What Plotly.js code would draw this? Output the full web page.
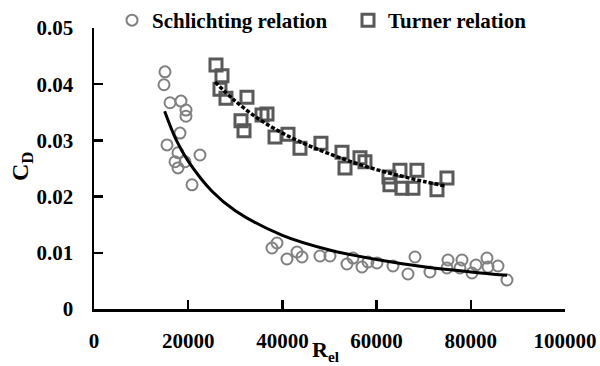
<!DOCTYPE html>
<html><head><meta charset="utf-8">
<script src="https://cdn.plot.ly/plotly-3.0.1.min.js"></script>
<style>html,body{margin:0;padding:0;background:#fff}#c{width:600px;height:366px}</style>
</head><body><div id="c"></div>
<script>
// Schlichting relation (open circles)
const schRe = [15070,14860,16140,18470,19530,19530,18260,15500,17830,22500,17200,19320,17830,20810,
  37790,38850,40970,43100,44160,47980,50100,53710,54990,56900,58170,
  60080,63480,66660,68150,71330,74940,75160,77700,78130,80250,81100,83430,83650,85770,87680];
const schCd = [0.0422,0.0399,0.0367,0.0370,0.0354,0.0343,0.0313,0.0292,0.0278,0.0274,0.0262,0.0262,0.0251,0.0221,
  0.01085,0.01174,0.0089,0.01014,0.00925,0.00943,0.00943,0.00801,0.00907,0.00747,0.00836,
  0.00819,0.00765,0.00623,0.00925,0.00658,0.0073,0.00872,0.0073,0.00872,0.00641,0.00783,0.00907,0.00747,0.00765,0.00516];
// Turner relation (open squares)
const turRe = [25900,27170,26750,28020,32480,31210,31850,35670,36730,38430,41190,43730,48190,52650,53290,56470,57530,62630,64960,62840,65390,68570,67720,72820,74940];
const turCd = [0.0434,0.0415,0.0391,0.0375,0.0377,0.0335,0.0317,0.0345,0.0347,0.0306,0.0311,0.0286,0.0295,0.0279,0.0251,0.0269,0.0262,0.0235,0.0247,0.0221,0.0215,0.0247,0.0215,0.0212,0.0233];
// Trend lines
const schFitRe = [15000,17500,20000,25000,30000,40000,50000,60000,70000,80000,87700];
const schFitCd = [0.0352,0.0300,0.0263,0.0210,0.0175,0.0131,0.0105,0.0088,0.0075,0.0066,0.0060];
const turFitRe = [25700,30000,35000,40000,45000,50000,55000,60000,65000,70000,74500];
const turFitCd = [0.0404,0.0370,0.0338,0.0313,0.0293,0.0276,0.0261,0.0248,0.0237,0.0227,0.0219];
const xTicks = [0,20000,40000,60000,80000,100000];
const yTicks = [0,0.01,0.02,0.03,0.04,0.05];
const names = ['Schlichting relation','Turner relation'];

const F = 'Liberation Serif, Times New Roman, serif';
const legFont = {family:F, size:21, color:'#000', weight:'bold'};
const traces = [
  {x: schRe, y: schCd, mode:'markers', type:'scatter', name:names[0], legend:'legend',
   marker:{symbol:'circle-open', size:11, color:'#808080', line:{width:2, color:'#808080'}}},
  {x: turRe, y: turCd, mode:'markers', type:'scatter', name:names[1], legend:'legend2',
   marker:{symbol:'square-open', size:12, color:'#595959', line:{width:3, color:'#595959'}}},
  {x: schFitRe, y: schFitCd, mode:'lines', type:'scatter', showlegend:false,
   line:{color:'#000', width:3, shape:'spline'}},
  {x: turFitRe, y: turFitCd, mode:'lines', type:'scatter', showlegend:false,
   line:{color:'#000', width:3.5, shape:'spline', dash:'4px,2px'}}
];
const layout = {
  width:600, height:366,
  margin:{l:94, r:35, t:28, b:57, autoexpand:false},
  paper_bgcolor:'#fff', plot_bgcolor:'#fff',
  font:{family:F, color:'#000', size:21, weight:'bold'},
  showlegend:true,
  legend:{xref:'container', yref:'container', x:112/600, y:1,
    xanchor:'left', yanchor:'top', itemwidth:30, font:legFont, bgcolor:'rgba(0,0,0,0)', borderwidth:0},
  legend2:{xref:'container', yref:'container', x:348/600, y:1,
    xanchor:'left', yanchor:'top', itemwidth:30, font:legFont, bgcolor:'rgba(0,0,0,0)', borderwidth:0},
  xaxis:{range:[0,100000], tickvals:xTicks, ticktext:xTicks.map(String), automargin:false,
    showline:true, linecolor:'#000', linewidth:2.5, ticks:'inside', ticklen:9, tickwidth:2.5, tickcolor:'#000',
    showgrid:false, zeroline:false, tickfont:{family:F, size:21, color:'#000', weight:'bold'}, ticklabelstandoff:11},
  yaxis:{range:[0,0.05], tickvals:yTicks, ticktext:yTicks.map(v=>String(v)), automargin:false,
    showline:true, linecolor:'#000', linewidth:2.5, ticks:'inside', ticklen:9, tickwidth:2.5, tickcolor:'#000',
    showgrid:false, zeroline:false, tickfont:{family:F, size:21, color:'#000', weight:'bold'}, ticklabelstandoff:14},
  annotations:[
    {text:'R<sub>el</sub>', xref:'paper', yref:'paper', x:(310-94)/471, y:-(351-309)/281,
     xanchor:'left', yanchor:'middle', showarrow:false, font:{family:F, size:22, color:'#000', weight:'bold'}},
    {text:'C<sub>D</sub>', xref:'paper', yref:'paper', x:-(94-22)/471, y:(309-167)/281,
     xanchor:'center', yanchor:'middle', textangle:-90, showarrow:false, font:{family:F, size:24, color:'#000', weight:'bold'}}
  ]
};
Plotly.newPlot('c', traces, layout, {staticPlot:true, displayModeBar:false});
</script></body></html>
